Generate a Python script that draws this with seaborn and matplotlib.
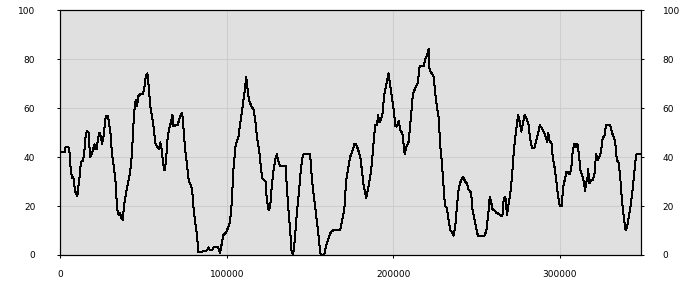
import numpy as np
import pandas as pd
import matplotlib
matplotlib.use("Agg")
import matplotlib.pyplot as plt
import seaborn as sns
from matplotlib.ticker import ScalarFormatter

# ---- data (x in thousands, values 0-100) ----
x_part1 = [1.0, 2.6, 3.2, 4.8, 5.4, 5.8, 6.4, 7.2, 7.8, 8.2,
           9.0, 10.2, 10.6, 11.4, 12.0, 12.4, 13.6, 14.3, 15.1, 15.9,
           17.1, 17.5, 17.9, 18.9, 19.7, 20.5, 21.1, 21.9, 22.5, 23.5,
           24.3, 25.1, 26.1, 26.7, 27.3, 28.3, 29.1, 30.3, 30.9, 31.9,
           33.1, 33.7, 34.5, 35.3, 35.9, 36.7, 37.5, 38.3, 39.5, 40.7,
           41.9, 42.7, 43.5, 44.3, 45.3, 46.1, 46.9, 48.1, 49.5, 50.3,
           51.3, 52.3, 53.1, 54.1, 55.3, 56.3, 57.1, 58.3, 59.3, 60.1,
           60.9, 61.8, 62.6, 63.4, 64.4, 65.2, 66.6, 67.4, 68.0, 69.0,
           70.4, 71.4, 72.2, 73.2, 74.0, 75.0, 76.0, 77.2, 78.2, 79.2,
           80.0, 81.0, 82.0, 83.0, 84.0, 85.2, 86.0, 88.0, 89.0, 90.0,
           91.2, 92.0, 93.2, 94.8, 96.0]
y_part1 = [42, 42, 44, 44, 43.3, 39, 34, 31.3, 32, 29.6,
           26, 24, 26.6, 30.6, 35.4, 38, 38.6, 41, 47.7, 50.8,
           50, 44.3, 40, 41.3, 43.2, 45.2, 43.3, 43.3, 47, 50,
           48.4, 45.4, 49, 53, 56.5, 57, 55, 49, 42.2, 37.5,
           30.7, 23.8, 17.3, 16.3, 17, 15, 14.3, 20.4, 25.2, 29.6,
           33.4, 38.8, 47, 58, 63.4, 61, 65, 65.8, 65.8, 67.4,
           72.9, 74.2, 68.8, 60.6, 55.9, 51, 45.6, 44, 43.2, 46,
           43, 37.5, 34.7, 37.5, 47, 51, 54.5, 57.2, 52.5, 53,
           53, 55.2, 57, 58.2, 51.8, 43, 37.5, 30, 29, 26.6,
           19.8, 13.6, 8.9, 1.1, 1.1, 1.1, 1.8, 1.8, 3.1, 2,
           2, 3.1, 3.1, 3.1, 1]

x_part2 = [98.0, 99.6, 101.0, 102.0, 103.0, 104.0, 105.2, 106.1, 107.1, 108.1,
           109.3, 110.1, 111.1, 111.7, 112.3, 113.3, 114.5, 116.1, 117.1, 118.1,
           119.5, 120.5, 121.3, 122.3, 123.3, 124.1, 125.1, 126.1, 127.1, 128.1,
           129.1, 130.1, 131.1, 132.1, 133.5, 135.3, 136.1, 137.1, 138.1, 138.9,
           139.9, 140.9, 142.1, 143.3, 144.5, 145.7, 147.1, 149.1, 150.1, 151.3,
           152.6, 153.8, 155.0, 156.2, 157.2, 158.6, 159.8, 161.2, 162.6, 164.2,
           166.2, 168.2, 169.4, 170.6, 171.8, 173.2, 174.2, 175.4, 176.6, 177.8,
           179.0, 180.2, 181.2, 182.2, 183.8, 185.0, 186.2, 187.2, 188.2, 189.2,
           190.2, 191.0, 191.6, 192.6, 193.6, 194.6, 195.8, 197.2, 198.2, 199.3,
           200.3, 201.3, 202.3, 203.3, 204.3, 205.5, 206.9, 207.9, 209.3, 210.7,
           211.9, 213.3, 214.7, 215.9, 217.3, 218.3, 219.1, 220.3, 221.3, 221.9,
           223.3, 224.3, 225.3, 226.3, 227.3, 228.3]
y_part2 = [8.2, 9.1, 11.6, 13.6, 21.1, 34.7, 44.3, 46.3, 48.6, 53.8,
           59.3, 63.4, 68.8, 72.9, 68.8, 63.4, 61.3, 59.3, 55.2, 48.4,
           42.9, 36.1, 31.3, 30.7, 30, 22.5, 18.4, 19.8, 28.6, 34.7,
           38.8, 41.3, 38.1, 36.5, 36.5, 36.5, 27.9, 18.4, 10.2, 2,
           0, 6.1, 17, 25.2, 34.7, 40.9, 41.3, 41.3, 41.3, 30,
           22.5, 15.7, 8.9, 0.7, 0, 0, 4.1, 6.8, 9.5, 10.2,
           10.2, 10.2, 14.3, 18.4, 30.7, 36.1, 40.2, 42.2, 45.2, 45.2,
           42.9, 40.2, 34.7, 28.6, 23.2, 27.2, 32, 37.5, 45.6, 53.1,
           53.1, 57.2, 54.2, 55.2, 57.9, 65.4, 69.5, 74.2, 69.5, 64,
           59.3, 52.7, 52.5, 54.9, 51.1, 49.7, 41.3, 44.3, 46.3, 56.5,
           66.1, 68.1, 70.2, 77, 77.2, 77.2, 79.7, 81.7, 84.1, 75.3,
           74.2, 72.9, 66.1, 60.6, 56.5, 44.3]

x_part3 = [229.3, 230.3, 231.1, 232.3, 233.3, 234.3, 235.3, 236.3, 237.3, 238.3,
           239.3, 240.3, 241.9, 243.3, 244.3, 245.3, 246.8, 247.7, 248.9, 249.9,
           250.9, 252.4, 253.8, 255.0, 256.0, 257.0, 258.0, 258.8, 259.8, 261.0,
           262.0, 263.4, 264.8, 265.6, 266.4, 267.4, 268.4, 269.4, 270.4, 271.4,
           272.4, 273.4, 274.4, 275.0, 276.0, 277.0, 278.0, 279.0, 280.0, 281.2,
           282.4, 283.4, 284.8, 286.1, 287.1, 288.1, 289.3, 290.5, 291.5, 292.5,
           293.1, 294.1, 295.1, 295.9, 297.1, 298.1, 299.1, 300.1, 301.3, 302.1,
           303.1, 304.1, 305.1, 305.9, 306.9, 307.9, 308.9, 309.9, 310.7, 311.5,
           312.5, 313.5, 314.5, 315.3, 316.1, 316.7, 317.1, 317.9, 318.9, 319.9,
           320.9, 321.9, 322.9, 323.9, 324.9, 325.9, 326.9, 327.9, 329.1, 330.3,
           331.3, 332.3, 333.4, 334.4, 335.4, 336.4, 337.4, 338.4, 339.6, 340.6,
           341.6, 342.6, 343.6, 344.6, 345.6, 346.2, 347.6, 348.6]
y_part3 = [37.5, 27.9, 20, 19.1, 14.3, 10.2, 9.3, 7.9, 11.6, 19.8,
           26.6, 29.6, 32, 30, 29.3, 26.8, 25.5, 18.4, 14.3, 10.9,
           7.9, 7.9, 7.9, 7.9, 10.2, 15.7, 23.8, 21.8, 18.4, 18.1,
           17.3, 16.8, 15.9, 15.9, 22.8, 23.8, 16.3, 21.1, 25.2, 32,
           41.6, 48.4, 53.8, 57.2, 54.5, 50.4, 53.8, 57.2, 55.9, 53.8,
           47, 43.6, 43.6, 47, 49.7, 53.1, 51.8, 50.4, 48.4, 46.3,
           50, 46.3, 45.9, 39.5, 35.4, 30, 23.8, 20, 20, 27.9,
           30.7, 34.1, 33.7, 33, 34.7, 42.9, 45.4, 44.3, 45.4, 41.6,
           34.7, 32.7, 30, 26.3, 30, 31.3, 35, 29.3, 30.7, 30.7,
           32.7, 41.3, 38.8, 40.2, 42.2, 48.1, 48.4, 53.1, 53.1, 53.1,
           50.4, 48.4, 46.3, 38.8, 37.7, 32, 22.5, 16.3, 10.2, 11.6,
           15.7, 19.8, 25.2, 32, 38.8, 41.1, 41.1, 41.1]

x_ticks = [0, 100000, 200000, 300000]
y_ticks = [0, 20, 40, 60, 80, 100]

df = pd.DataFrame({
    "x": np.array(x_part1 + x_part2 + x_part3) * 1000,
    "y": y_part1 + y_part2 + y_part3,
})

sns.set_style("white", {"axes.facecolor": "#e0e0e0", "axes.edgecolor": "black"})
plt.rcParams["font.family"] = ["DejaVu Sans"]

fig = plt.figure(figsize=(7, 3), dpi=100)
ax = fig.add_axes([60.3 / 700, 45 / 300, (640.5 - 60.3) / 700, (255 - 10.3) / 300])

ax.grid(True, color="#cdcdcd", linewidth=0.75)
ax.set_axisbelow(True)
sns.lineplot(data=df, x="x", y="y", color="black", linewidth=0.72, ax=ax,
             estimator=None, sort=False)
for ln in ax.lines:
    ln.set_antialiased(False)

ax.set_xlim(0, df["x"].max())
ax.set_ylim(0, 100)
ax.set_xticks(x_ticks)
ax.set_yticks(y_ticks)
fmt = ScalarFormatter(useOffset=False)
fmt.set_scientific(False)
ax.xaxis.set_major_formatter(fmt)
ax.set_xlabel("")
ax.set_ylabel("")
for s in ax.spines.values():
    s.set_linewidth(0.8)
    s.set_color("black")

ax.tick_params(axis="x", direction="out", length=2.5, width=0.75, pad=8.5,
               labelsize=6.5, colors="black", bottom=True)
ax.tick_params(axis="y", direction="out", length=2.5, width=0.75, pad=15.5,
               labelsize=6.5, colors="black", left=True)

ax2 = ax.twinx()
ax2.set_ylim(0, 100)
ax2.set_yticks(y_ticks)
ax2.tick_params(axis="y", direction="out", length=2.5, width=0.75, pad=13.5,
                labelsize=6.5, colors="black", right=True)
for s in ax2.spines.values():
    s.set_linewidth(0.8)
    s.set_color("black")
ax2.grid(False)

fig.savefig("out.png", dpi=100)
